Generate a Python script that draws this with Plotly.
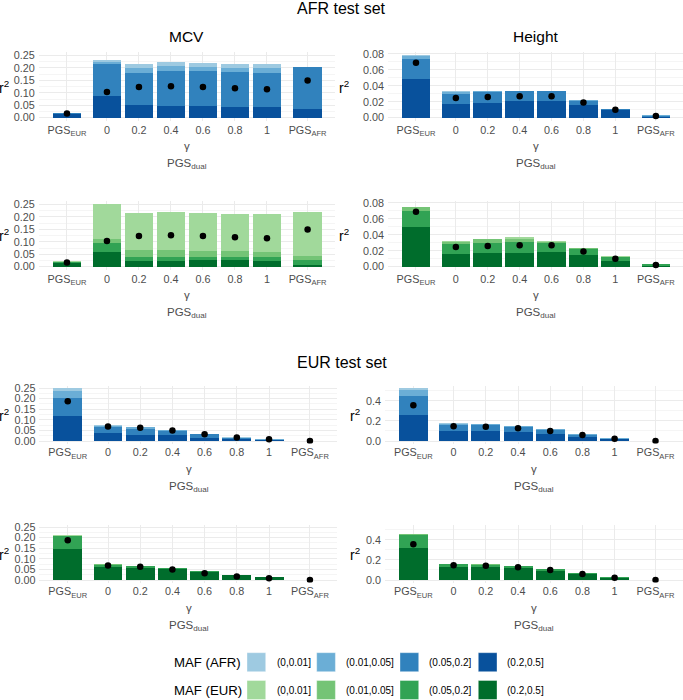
import plotly.graph_objects as go

W, H = 683, 700

# ---------------- data ----------------
methods = ["PGS_EUR", "0", "0.2", "0.4", "0.6", "0.8", "1", "PGS_AFR"]
tick_labels = ["PGS<sub>EUR</sub>", "0", "0.2", "0.4", "0.6", "0.8", "1", "PGS<sub>AFR</sub>"]
maf_bins = ["(0,0.01]", "(0.01,0.05]", "(0.05,0.2]", "(0.2,0.5]"]
afr_colors = ["#9ECAE1", "#6BAED6", "#3182BD", "#08519C"]
eur_colors = ["#A1D99B", "#74C476", "#31A354", "#006D2C"]

# stratified r2, rows follow maf_bins order, columns follow methods
afr_mcv_by_afr_maf = [
    [0.0005, 0.005, 0.016, 0.015, 0.016, 0.018, 0.019, 0.001],
    [0.001, 0.008, 0.017, 0.020, 0.019, 0.017, 0.017, 0.001],
    [0.004, 0.130, 0.1315, 0.140, 0.1405, 0.138, 0.1395, 0.167],
    [0.015, 0.087, 0.0495, 0.047, 0.0455, 0.044, 0.0415, 0.036],
]
afr_height_by_afr_maf = [
    [0.0015, 0.001, 0.0005, 0.0003, 0.0003, 0.0002, 0.0001, 0.0001],
    [0.0037, 0.002, 0.0013, 0.0005, 0.0005, 0.0008, 0.0002, 0.0003],
    [0.0255, 0.0129, 0.0137, 0.0122, 0.0117, 0.0047, 0.0014, 0.0014],
    [0.0483, 0.0171, 0.0183, 0.0208, 0.0213, 0.0163, 0.0096, 0.0012],
]
afr_mcv_by_eur_maf = [
    [0.0005, 0.141, 0.147, 0.152, 0.151, 0.150, 0.155, 0.176],
    [0.0015, 0.016, 0.029, 0.028, 0.025, 0.023, 0.021, 0.016],
    [0.0056, 0.034, 0.015, 0.015, 0.015, 0.015, 0.013, 0.020],
    [0.0134, 0.060, 0.023, 0.023, 0.025, 0.025, 0.024, 0.007],
]
afr_height_by_eur_maf = [
    [0.0002, 0.0005, 0.0003, 0.0022, 0.0005, 0.0002, 0.0002, 0.0001],
    [0.0048, 0.0022, 0.0043, 0.0035, 0.0015, 0.001, 0.001, 0.0004],
    [0.020, 0.0127, 0.013, 0.0135, 0.012, 0.0079, 0.0046, 0.002],
    [0.0496, 0.0163, 0.017, 0.0175, 0.018, 0.0146, 0.0071, 0.0008],
]
eur_mcv_by_afr_maf = [
    [0.012, 0.005, 0.003, 0.002, 0.001, 0.0016, 0.0005, 0.0001],
    [0.031, 0.008, 0.006, 0.006, 0.002, 0.0016, 0.001, 0.0001],
    [0.085, 0.027, 0.028, 0.019, 0.016, 0.0064, 0.0033, 0.0002],
    [0.120, 0.037, 0.030, 0.026, 0.016, 0.008, 0.0032, 0.0002],
]
eur_height_by_afr_maf = [
    [0.023, 0.004, 0.005, 0.004, 0.003, 0.002, 0.001, 0.0003],
    [0.061, 0.010, 0.011, 0.009, 0.007, 0.005, 0.002, 0.0002],
    [0.185, 0.060, 0.0575, 0.051, 0.041, 0.023, 0.007, 0.0005],
    [0.262, 0.101, 0.0975, 0.087, 0.067, 0.037, 0.017, 0.0005],
]
eur_mcv_by_eur_maf = [
    [0.001, 0.0005, 0.001, 0.0005, 0.0005, 0.0002, 0.0002, 0.0001],
    [0.001, 0.001, 0.001, 0.0004, 0.0003, 0.0003, 0.0001, 0.0001],
    [0.063, 0.0105, 0.0074, 0.0031, 0.0031, 0.0014, 0.0016, 0.0002],
    [0.145, 0.062, 0.0586, 0.0525, 0.0386, 0.0216, 0.0123, 0.0003],
]
eur_height_by_eur_maf = [
    [0.001, 0.001, 0.001, 0.001, 0.001, 0.001, 0.0005, 0.0002],
    [0.006, 0.002, 0.002, 0.002, 0.001, 0.001, 0.0005, 0.0002],
    [0.134, 0.027, 0.023, 0.023, 0.016, 0.010, 0.007, 0.0004],
    [0.318, 0.134, 0.131, 0.115, 0.092, 0.059, 0.023, 0.0006],
]

# overall r2 (points)
afr_mcv_total = [0.017, 0.103, 0.123, 0.126, 0.123, 0.118, 0.114, 0.149]
afr_height_total = [0.0688, 0.0246, 0.0258, 0.027, 0.027, 0.019, 0.010, 0.002]
eur_mcv_total = [0.188, 0.068, 0.062, 0.050, 0.032, 0.016, 0.008, 0.0003]
eur_height_total = [0.356, 0.148, 0.141, 0.127, 0.100, 0.060, 0.023, 0.0005]

# ---------------- layout helpers ----------------
# facet-like positions: PGS_EUR | gamma 0..1 | PGS_AFR
xpos = [-1.25, 0, 1, 2, 3, 4, 5, 6.27]
XR = [-2.13, 7.12]

FONT = "Liberation Sans, Arial, Helvetica, sans-serif"
GREY = "#4D4D4D"
GRID = "#EBEBEB"

# (stacked data, totals, colours, x-left px, x-right px, top px, zero px, bottom px, px-per-unit, dtick, fmt)
panels = [
    (afr_mcv_by_afr_maf, afr_mcv_total, afr_colors, 38.8, 334.8, 52.3, 117.7, 120.8, 249, 0.05, ".2f"),
    (afr_height_by_afr_maf, afr_height_total, afr_colors, 387.9, 683.0, 52.3, 117.7, 120.8, 798, 0.02, ".2f"),
    (afr_mcv_by_eur_maf, afr_mcv_total, eur_colors, 38.8, 334.8, 200.9, 266.7, 269.8, 249, 0.05, ".2f"),
    (afr_height_by_eur_maf, afr_height_total, eur_colors, 387.9, 683.0, 200.9, 266.7, 269.8, 798, 0.02, ".2f"),
    (eur_mcv_by_afr_maf, eur_mcv_total, afr_colors, 39.4, 337.3, 385.8, 441.0, 443.6, 212, 0.05, ".2f"),
    (eur_height_by_afr_maf, eur_height_total, afr_colors, 385.0, 682.9, 385.8, 441.0, 443.6, 100.5, 0.2, ".1f"),
    (eur_mcv_by_eur_maf, eur_mcv_total, eur_colors, 39.4, 337.3, 524.8, 580.0, 582.6, 212, 0.05, ".2f"),
    (eur_height_by_eur_maf, eur_height_total, eur_colors, 385.0, 682.9, 524.8, 580.0, 582.6, 100.5, 0.2, ".1f"),
]

fig = go.Figure()
layout = dict(
    width=W, height=H, margin=dict(l=0, r=0, t=0, b=0, pad=0, autoexpand=False),
    paper_bgcolor="white", plot_bgcolor="white",
    barmode="stack", showlegend=False,
    font=dict(family=FONT, color="black"),
)
annotations = []
shapes = []

for k, (data, totals, cols, xl, xr, top, zero, bot, ppu, dt, fmt) in enumerate(panels, start=1):
    xs = "x" if k == 1 else f"x{k}"
    ys = "y" if k == 1 else f"y{k}"
    # stack from darkest (common) to lightest (rare) bin
    for b in [3, 2, 1, 0]:
        fig.add_trace(go.Bar(
            x=xpos, y=data[b], width=0.9, marker=dict(color=cols[b], line=dict(width=0)),
            xaxis=xs, yaxis=ys, name=maf_bins[b], hoverinfo="skip",
        ))
    fig.add_trace(go.Scatter(
        x=xpos, y=totals, mode="markers", marker=dict(color="black", size=6.5),
        xaxis=xs, yaxis=ys, hoverinfo="skip",
    ))
    lo = -(bot - zero) / ppu
    hi = (zero - top) / ppu
    layout["xaxis" if k == 1 else f"xaxis{k}"] = dict(
        domain=[xl / W, xr / W], range=XR, anchor=ys, automargin=False,
        tickmode="array", tickvals=xpos, ticktext=tick_labels,
        showgrid=True, gridcolor=GRID, gridwidth=1, zeroline=False, showline=False,
        ticks="", ticklabelstandoff=1, tickfont=dict(size=10.8, color=GREY, family=FONT),
    )
    layout["yaxis" if k == 1 else f"yaxis{k}"] = dict(
        domain=[1 - bot / H, 1 - top / H], range=[lo, hi], anchor=xs, automargin=False,
        tickmode="linear", tick0=0, dtick=dt, tickformat=fmt,
        showgrid=True, gridcolor=GRID, gridwidth=1, zeroline=False, showline=False,
        ticks="", ticklabelstandoff=3, tickfont=dict(size=10.8, color=GREY, family=FONT),
        minor=dict(tick0=0, dtick=dt / 2, showgrid=True, gridcolor=GRID, gridwidth=0.5),
    )
    # y title r^2
    rx = 10.5 if xl < 100 else (351 if k in (2, 4) else 362)
    annotations.append(dict(
        text="r<sup>2</sup>", x=rx / W, y=1 - ((top + bot) / 2) / H, xref="paper", yref="paper",
        xanchor="right", yanchor="middle", showarrow=False, font=dict(size=14, color="black"),
    ))
    # gamma + PGS_dual strip under middle facet
    annotations.append(dict(
        text="γ", x=2.5, xref=xs, y=1 - (bot + 25.5) / H, yref="paper",
        xanchor="center", yanchor="middle", showarrow=False, font=dict(size=11.5, color=GREY),
    ))
    annotations.append(dict(
        text="PGS<sub>dual</sub>", x=2.5, xref=xs, y=1 - (bot + 43) / H, yref="paper",
        xanchor="center", yanchor="middle", showarrow=False, font=dict(size=11.5, color=GREY),
    ))

# block and column titles
for txt, xp, yp, sz in [("AFR test set", 341.5, 8.5, 16), ("EUR test set", 341.5, 362.5, 16),
                        ("MCV", 186.8, 37, 15.5), ("Height", 535.5, 37, 15.5)]:
    annotations.append(dict(text=txt, x=xp / W, y=1 - yp / H, xref="paper", yref="paper",
                            xanchor="center", yanchor="middle", showarrow=False,
                            font=dict(size=sz, color="black")))

# legend (two rows)
sw_x = [247.0, 316.7, 400.0, 478.3]
lab_x = [274.5, 343.8, 427.5, 504.5]
for title, cols, yc in [("MAF (AFR)", afr_colors, 662.2), ("MAF (EUR)", eur_colors, 690.0)]:
    annotations.append(dict(text=title, x=171.5 / W, y=1 - yc / H, xref="paper", yref="paper",
                            xanchor="left", yanchor="middle", showarrow=False,
                            font=dict(size=13.2, color="black")))
    for i in range(4):
        shapes.append(dict(type="rect", xref="paper", yref="paper",
                           x0=sw_x[i] / W, x1=(sw_x[i] + 18.7) / W,
                           y0=1 - (yc + 9.5) / H, y1=1 - (yc - 9.5) / H,
                           fillcolor=cols[i], line=dict(width=0.6, color="rgba(255,255,255,0.6)")))
        annotations.append(dict(text=maf_bins[i], x=lab_x[i] / W, y=1 - yc / H, xref="paper", yref="paper",
                                xanchor="left", yanchor="middle", showarrow=False,
                                font=dict(size=10, color="black")))

layout["annotations"] = annotations
layout["shapes"] = shapes
fig.update_layout(**layout)
fig.write_html(
    "out.html",
    config={"displayModeBar": False, "staticPlot": True},
    post_script=(
        "document.body.style.margin='0';document.body.style.overflow='hidden';"
        "var d=document.getElementsByClassName('plotly-graph-div')[0];"
        "d.style.position='absolute';d.style.top='0px';d.style.left='0px';"
    ),
)
